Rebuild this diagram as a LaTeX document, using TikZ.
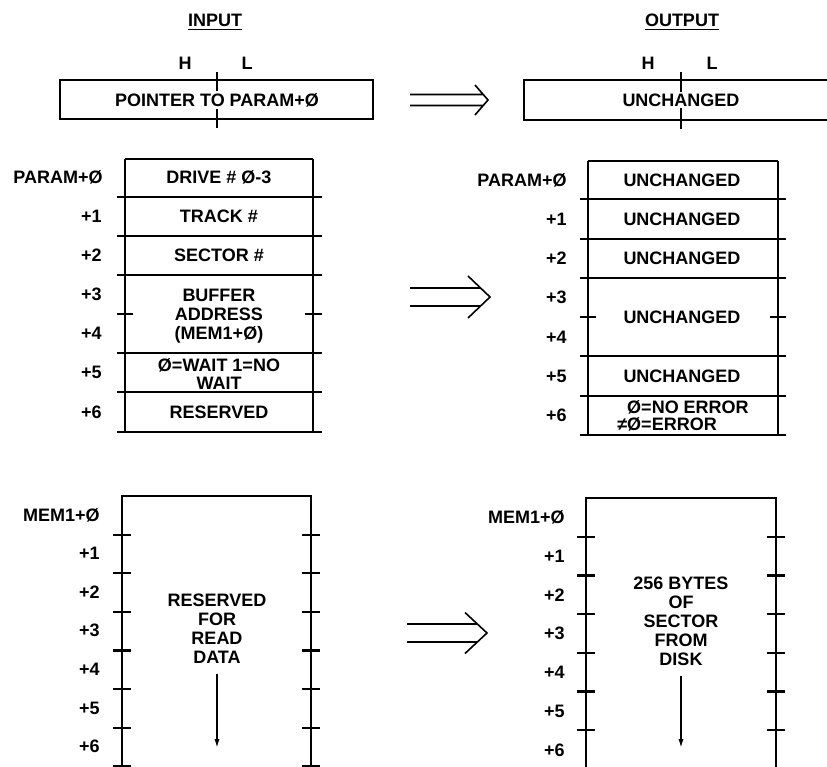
\documentclass[tikz,border=0pt]{standalone}
\usepackage{fontspec}
\setmainfont{Liberation Sans}
\usepackage{tikz}
\usetikzlibrary{arrows.meta, calc, positioning}
\tikzset{
  >=latex,  % frecce stile LaTeX
  % testi
  cell text/.style={font=\fontsize{9}{9.5}\selectfont\bfseries,inner sep=0,align=center},
  addr label/.style={cell text,anchor=east},
  % linee delle tabelle
  table rule/.style={line width=1.1pt},
  % frecce
  data arrow/.style={-{Latex[length=4.5pt,width=2.6pt]},line width=0.8pt,shorten <=5pt},
  big arrow/.style={line width=0.8pt}
}
% double arrow: start, tip, half gap, head length, head half width
\newcommand{\implarrow}[5]{%
  \draw[big arrow] ($(#1)+(0,-#3)$) -- ($(#2)+({-#4*#3/#5},-#3)$)
                   ($(#1)+(0,#3)$) -- ($(#2)+({-#4*#3/#5},#3)$)
                   ($(#2)+(-#4,-#5)$) -- (#2) -- ($(#2)+(-#4,#5)$);}

\begin{document}
\begin{tikzpicture}[x=0.5pt,y=-0.5pt]
    \useasboundingbox (0,0) rectangle (827,767);
    \clip (0,0) rectangle (827,767);
    % headings
    \node[cell text] (inhead) at (215,22) {\underline{INPUT}};
    \node[cell text] (outhead) at (682,22) {\underline{OUTPUT}};
    % pointer register
    \node[cell text] (hin) at (185,63) {H};
    \node[cell text] (lin) at (247,63) {L};
    \draw[table rule] (60,80) rectangle (373,119) (217,72) -- (217,128);
    \node[cell text,fill=white,inner sep=1pt] (ptrin) at (217,100) {POINTER TO PARAM+Ø};
    \node[cell text] (hout) at (648,63) {H};
    \node[cell text] (lout) at (712,63) {L};
    \draw[table rule] (524,80) rectangle (832,120) (681,72) -- (681,129);
    \node[cell text,fill=white,inner sep=1pt] (ptrout) at (681,100) {UNCHANGED};
    % parameter block, input
    \draw[table rule] (125,159) -- (313,159) (125,159) -- (125,432) (313,159) -- (313,432);
    \foreach \y in {197,236,275,353,392,432}
      \draw[table rule] (117,\y) -- (322,\y);
    \draw[table rule] (117,314) -- (133,314) (305,314) -- (322,314);
    \node[addr label] (pin0) at (103,177.5) {PARAM+Ø};
    \foreach \i/\y in {1/216.5,2/255.5,3/294.5,4/333.5,5/372.5,6/412}
      \node[addr label] (pin\i) at (102,\y) {+\i};
    \node[cell text] (drive) at (219,177.5) {DRIVE \# Ø-3};
    \node[cell text] (track) at (219,216.5) {TRACK \#};
    \node[cell text] (sector) at (219,255.5) {SECTOR \#};
    \node[cell text] (buffer) at (219,316) {BUFFER\\ADDRESS\\(MEM1+Ø)};
    \node[cell text,font=\fontsize{9}{9}\selectfont\bfseries] (wait) at (219,374) {Ø=WAIT 1=NO\\WAIT};
    \node[cell text] (rsvd) at (219,412) {RESERVED};
    % parameter block, output
    \draw[table rule] (588,161) -- (778,161) (588,161) -- (588,435) (778,161) -- (778,435);
    \foreach \y in {199,239,278,356,396,435}
      \draw[table rule] (580,\y) -- (786,\y);
    \draw[table rule] (580,317) -- (596,317) (770,317) -- (786,317);
    \node[addr label] (pout0) at (567,180) {PARAM+Ø};
    \foreach \i/\y in {1/219,2/258.5,3/297.5,4/337,5/376,6/415}
      \node[addr label] (pout\i) at (567,\y) {+\i};
    \foreach \n/\y in {a/180,b/219,c/258.5,d/317,e/376}
      \node[cell text] (same\n) at (682,\y) {UNCHANGED};
    \node[cell text,align=left,font=\fontsize{9}{8.6}\selectfont\bfseries] (status) at (688,415.5)
      {Ø=NO ERROR\\\llap{≠}Ø=ERROR};
    % memory buffer, input
    \draw[table rule] (122,784) -- (122,496) -- (311,496) -- (311,784);
    \foreach \k in {1,...,7} {
      \draw[table rule] (113,496+38.6*\k) -- (131,496+38.6*\k);
      \draw[table rule] (302,496+38.6*\k) -- (320,496+38.6*\k);
    }
    \node[addr label] (min0) at (100,515) {MEM1+Ø};
    \foreach \i in {1,...,6}
      \node[addr label] (min\i) at (100,515+38.6*\i) {+\i};
    \node[cell text] (readdata) at (217,628.5) {RESERVED\\FOR\\READ\\DATA};
    \coordinate (readend) at (217,748);
    \draw[data arrow] (readdata) -- (readend);
    % memory buffer, output
    \draw[table rule] (586,784) -- (586,498) -- (776,498) -- (776,784);
    \foreach \k in {1,...,7} {
      \draw[table rule] (577,498+38.7*\k) -- (595,498+38.7*\k);
      \draw[table rule] (767,498+38.7*\k) -- (785,498+38.7*\k);
    }
    \node[addr label] (mout0) at (565,517) {MEM1+Ø};
    \foreach \i in {1,...,6}
      \node[addr label] (mout\i) at (565,517+38.9*\i) {+\i};
    \node[cell text] (sectordata) at (681,621) {256 BYTES\\OF\\SECTOR\\FROM\\DISK};
    \coordinate (sectorend) at (681,748);
    \draw[data arrow] (sectordata) -- (sectorend);
    % input to output
    \coordinate (s1) at (410,100); \coordinate (t1) at (488,100);
    \coordinate (s2) at (410,297); \coordinate (t2) at (490,297);
    \coordinate (s3) at (407,633); \coordinate (t3) at (487,633);
    \implarrow{s1}{t1}{5.5}{13}{15}
    \implarrow{s2}{t2}{9}{22}{21}
    \implarrow{s3}{t3}{9}{22}{20.5}
  \end{tikzpicture}
\end{document}
